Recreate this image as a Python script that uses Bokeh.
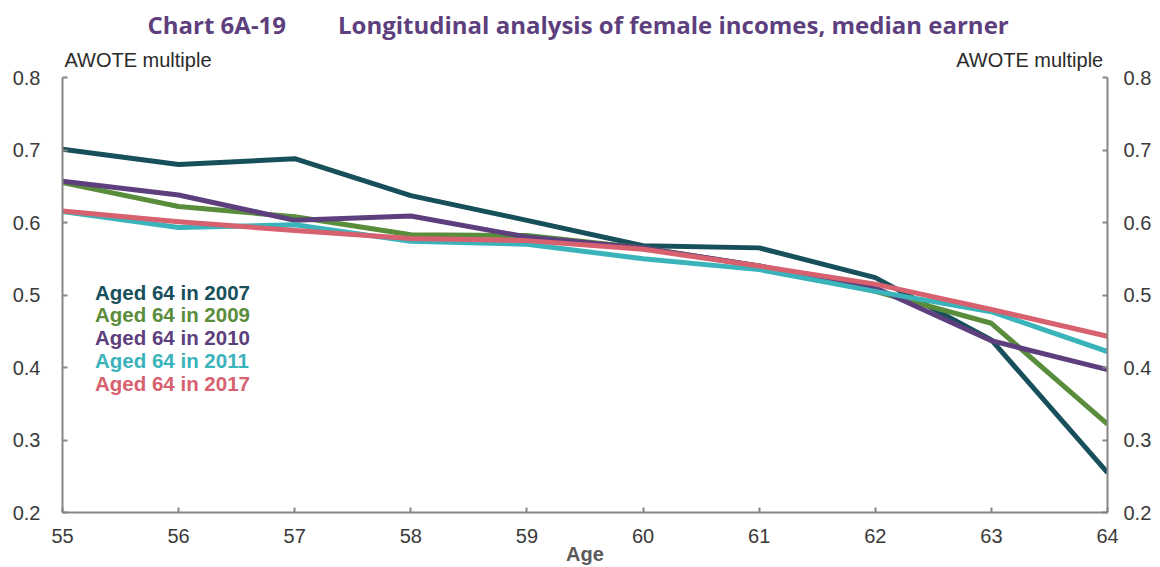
from bokeh.plotting import figure
from bokeh.models import Range1d, LinearAxis, ColumnDataSource, FixedTicker, Title
from bokeh.core.properties import value
from bokeh.embed import file_html
from bokeh.resources import INLINE

# ---- data ----
ages = [55, 56, 57, 58, 59, 60, 61, 62, 63, 64]
aged64_2007 = [0.701, 0.680, 0.688, 0.637, 0.603, 0.568, 0.565, 0.524, 0.438, 0.255]
aged64_2009 = [0.655, 0.622, 0.608, 0.583, 0.582, 0.565, 0.540, 0.505, 0.461, 0.322]
aged64_2010 = [0.657, 0.638, 0.603, 0.609, 0.580, 0.565, 0.540, 0.510, 0.437, 0.397]
aged64_2011 = [0.615, 0.593, 0.597, 0.574, 0.570, 0.550, 0.535, 0.505, 0.477, 0.422]
aged64_2017 = [0.616, 0.601, 0.589, 0.578, 0.575, 0.563, 0.540, 0.515, 0.480, 0.443]
series_names = ["Aged 64 in 2007", "Aged 64 in 2009", "Aged 64 in 2010", "Aged 64 in 2011", "Aged 64 in 2017"]
series_colors = ["#17505b", "#5a8d3b", "#5e3f7e", "#3bb3ba", "#d8616f"]
y_ticks = [0.2, 0.3, 0.4, 0.5, 0.6, 0.7, 0.8]
x_ticks = ages
title_text = "Chart 6A-19\u2003\u2003\u2009Longitudinal analysis of female incomes, median earner"
y_label = "AWOTE multiple"
x_label = "Age"

series = [aged64_2007, aged64_2009, aged64_2010, aged64_2011, aged64_2017]

W, H = 1160, 567
p = figure(width=W, height=H, output_backend="svg", toolbar_location=None, title=None,
           x_range=Range1d(55, 64), y_range=Range1d(0.2, 0.8),
           min_border_left=62, min_border_right=53, min_border_top=75, min_border_bottom=54)
p.outline_line_color = None
p.xgrid.visible = False
p.ygrid.visible = False
p.background_fill_color = "white"
p.border_fill_color = "white"

axis_color = "#868686"
tick_font = "Liberation Sans"

def style_axis(ax):
    ax.axis_line_color = axis_color
    ax.axis_line_width = 2
    ax.major_tick_line_color = axis_color
    ax.major_tick_line_width = 2
    ax.major_tick_in = 5
    ax.major_tick_out = 0
    ax.minor_tick_line_color = None
    ax.major_label_text_font = tick_font
    ax.major_label_text_font_size = "20px"
    ax.major_label_text_color = "#3a3a3a"

p.xaxis.ticker = FixedTicker(ticks=x_ticks)
p.yaxis.ticker = FixedTicker(ticks=y_ticks)
style_axis(p.xaxis[0])
style_axis(p.yaxis[0])
p.xaxis.major_label_standoff = 16
p.yaxis.major_label_standoff = 22
p.xaxis.axis_label = x_label
p.xaxis.axis_label_text_font = "Liberation Sans"
p.xaxis.axis_label_text_font_style = "bold"
p.xaxis.axis_label_text_font_size = "20px"
p.xaxis.axis_label_text_color = "#5a5a5a"
p.xaxis.axis_label_standoff = -3

right = LinearAxis(ticker=FixedTicker(ticks=y_ticks))
style_axis(right)
right.major_label_standoff = 16
p.add_layout(right, "right")

# top "axis" carrying the two unit labels
unit_pos = [55.65, 63.33]
top = LinearAxis(ticker=FixedTicker(ticks=unit_pos),
                 major_label_overrides={unit_pos[0]: y_label, unit_pos[1]: y_label})
top.axis_line_color = None
top.major_tick_line_color = None
top.minor_tick_line_color = None
top.major_label_text_font = "Liberation Sans"
top.major_label_text_font_size = "20px"
top.major_label_text_color = "#2a2a2a"
top.major_label_standoff = 1
p.add_layout(top, "above")

for ys, c in zip(series, series_colors):
    p.line(ages, ys, line_color=c, line_width=5, line_join="round")

# legend-like coloured texts
leg_y0 = 0.504
leg_step = 0.0315
src = ColumnDataSource(dict(x=[55.28] * len(series_names),
                            y=[leg_y0 - i * leg_step for i in range(len(series_names))],
                            t=series_names, c=series_colors))
p.text(x="x", y="y", text="t", text_color="c", source=src,
       text_font=value("Liberation Sans"), text_font_style="bold",
       text_font_size="20.5px", text_baseline="middle", text_align="left")

p.add_layout(Title(text=title_text, text_font="Open Sans", text_font_style="bold",
                   text_font_size="24px", text_color="#5e3f7e", align="left",
                   offset=85, standoff=10), "above")

open("out.html", "w").write(file_html(p, INLINE))
